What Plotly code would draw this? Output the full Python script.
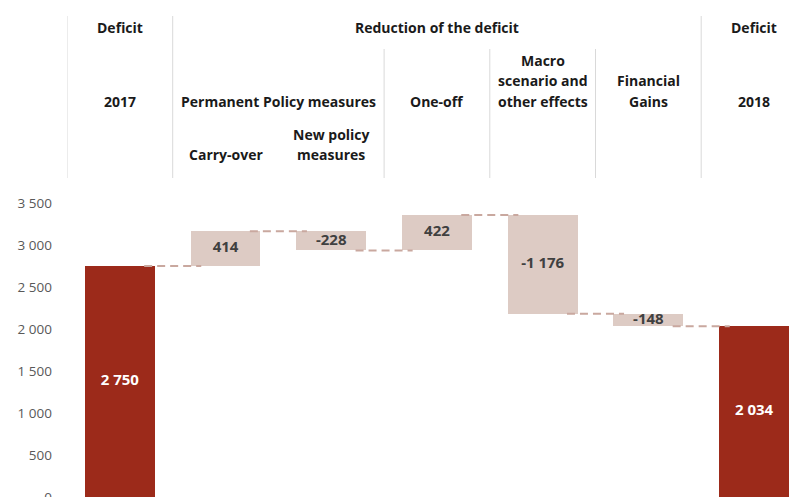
import plotly.graph_objects as go

# --- data -------------------------------------------------------------
categories = ["2017", "Carry-over", "New policy measures", "One-off",
              "Macro scenario and other effects", "Financial Gains", "2018"]
deficit_2017 = 2750
changes = [414, -228, 422, -1176, -148]
deficit_2018 = 2034

y_ticks = [0, 500, 1000, 1500, 2000, 2500, 3000, 3500]

# header table: (text lines, x centre in category units)
header_top = [("Deficit", 0), ("Reduction of the deficit", 3), ("Deficit", 6)]
header_mid = [(["2017"], 0), (["Permanent Policy measures"], 1.5), (["One-off"], 3),
              (["Macro", "scenario and", "other effects"], 4), (["Financial", "Gains"], 5),
              (["2018"], 6)]
header_low = [(["Carry-over"], 1), (["New policy", "measures"], 2)]

# --- derived geometry from the values ----------------------------------
W, H = 795, 497
RED = "#9C2A1A"
PINK = "#DDCBC4"
CONN = "#C9A89F"
FONT = "Open Sans, sans-serif"


def fmt(v):
    return f"{v:,}".replace(",", " ")


bases, heights, colors, labels, label_colors = [], [], [], [], []
running = [deficit_2017]
bases.append(0); heights.append(deficit_2017); colors.append(RED)
labels.append(fmt(deficit_2017)); label_colors.append("white")
cur = deficit_2017
for c in changes:
    bases.append(min(cur, cur + c)); heights.append(abs(c)); colors.append(PINK)
    labels.append(fmt(c)); label_colors.append("#404040")
    cur += c
    running.append(cur)
bases.append(0); heights.append(deficit_2018); colors.append(RED)
labels.append(fmt(deficit_2018)); label_colors.append("white")

xs = list(range(len(categories)))

fig = go.Figure()
fig.add_trace(go.Bar(x=xs, y=heights, base=bases, width=0.66,
                     marker=dict(color=colors, line=dict(width=0)),
                     hoverinfo="skip", showlegend=False))

# dashed connectors between consecutive bars
for i, level in enumerate(running):
    fig.add_trace(go.Scatter(x=[i + 0.23, i + 0.77], y=[level, level], mode="lines",
                             line=dict(color=CONN, width=2, dash="8px,5px"),
                             hoverinfo="skip", showlegend=False))

# value labels centred in each bar
fig.add_trace(go.Scatter(x=xs, y=[b + h / 2 for b, h in zip(bases, heights)],
                         mode="text", text=[f"<b>{t}</b>" for t in labels],
                         textposition="middle center",
                         textfont=dict(family=FONT, size=15, color=label_colors),
                         hoverinfo="skip", showlegend=False))

# --- header table ------------------------------------------------------
def py(px):
    return 1 - px / H

HFONT = dict(family=FONT, size=14, color="#1A1A1A")
annotations = []
for text, x in header_top:
    annotations.append(dict(x=x, y=py(27), text=f"<b>{text}</b>"))
for lines, x in header_mid:
    n = len(lines)
    for k, line in enumerate(lines):
        annotations.append(dict(x=x, y=py(101 - 20.5 * (n - 1 - k)), text=f"<b>{line}</b>"))
for lines, x in header_low:
    n = len(lines)
    for k, line in enumerate(lines):
        annotations.append(dict(x=x, y=py(155 - 20.5 * (n - 1 - k)), text=f"<b>{line}</b>"))
for a in annotations:
    a.update(xref="x", yref="paper", showarrow=False, xanchor="center",
             yanchor="middle", font=HFONT)

shapes = []
for x, top in [(-0.5, 16), (0.5, 16), (2.5, 49), (3.5, 49), (4.5, 49), (5.5, 16)]:
    shapes.append(dict(type="line", xref="x", yref="paper", x0=x, x1=x,
                       y0=py(top), y1=py(178), line=dict(color="#D9D9D9", width=1)))

left = 67
plot_w = W - left
x_max = -0.5 + plot_w / 105.7

fig.update_layout(
    width=W, height=H,
    margin=dict(l=left, r=0, t=0, b=0, autoexpand=False),
    paper_bgcolor="white", plot_bgcolor="white",
    separators=", ",
    bargap=0,
    annotations=annotations, shapes=shapes,
    xaxis=dict(range=[-0.5, x_max], showticklabels=False, showgrid=False,
               zeroline=False, showline=False, fixedrange=True, automargin=False),
    yaxis=dict(range=[0, 3500], domain=[0, (H - 203) / H], tickvals=y_ticks,
               tickformat=",d", showgrid=False, zeroline=False, showline=False,
               ticks="", ticklabelstandoff=14, automargin=False,
               ticklabeloverflow="allow",
               tickfont=dict(family=FONT, size=13.5, color="#595959")),
)

fig.write_html("out.html")
